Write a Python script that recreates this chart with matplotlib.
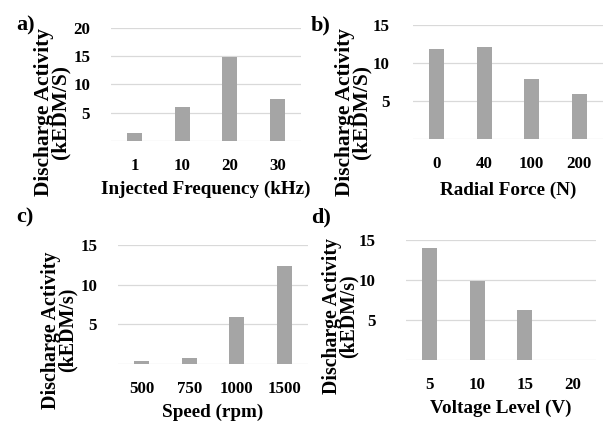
import matplotlib.pyplot as plt

plt.rcParams['font.family'] = ['Liberation Serif', 'DejaVu Serif']
plt.rcParams['font.weight'] = 'bold'

# Data
freq_labels = ['1', '10', '20', '30']
freq_values = [1.4, 6.0, 14.8, 7.4]

force_labels = ['0', '40', '100', '200']
force_values = [11.8, 12.1, 7.9, 5.9]

speed_labels = ['500', '750', '1000', '1500']
speed_values = [0.4, 0.7, 5.9, 12.3]

voltage_labels = ['5', '10', '15', '20']
voltage_values = [14.0, 9.9, 6.2, 0.0]

BAR_COLOR = '#A5A5A5'
GRID_COLOR = '#D9D9D9'
TICK_FS = 12.2
XLAB_FS = 13.8

W, H = 606, 423
fig = plt.figure(figsize=(W / 100, H / 100), dpi=100)


def px_axes(x0, y0, x1, y1):
    # pixel box (top-left origin) -> figure fraction axes
    return fig.add_axes([x0 / W, 1 - y1 / H, (x1 - x0) / W, (y1 - y0) / H])


def draw_panel(ax, labels, values, ymax, xlabel, ypad, xlabpad):
    pos = range(len(labels))
    ax.bar(pos, values, width=0.32, color=BAR_COLOR, zorder=3)
    ticks = list(range(0, ymax + 1, 5))
    ax.set_yticks(ticks)
    ax.set_yticklabels([''] + [str(t) for t in ticks[1:]])
    ax.set_ylim(0, ymax)
    ax.set_xlim(-0.5, len(labels) - 0.5)
    ax.set_xticks(list(pos))
    ax.set_xticklabels(labels)
    ax.grid(axis='y', color=GRID_COLOR, linewidth=0.9, zorder=0)
    for s in ax.spines.values():
        s.set_visible(False)
    ax.tick_params(length=0, labelsize=TICK_FS)
    ax.tick_params(axis='y', pad=ypad)
    ax.tick_params(axis='x', pad=12)
    ax.set_xlabel(xlabel, fontsize=XLAB_FS, fontweight='bold', labelpad=xlabpad)


ax_a = px_axes(111, 28, 301, 141)
draw_panel(ax_a, freq_labels, freq_values, 20, 'Injected Frequency (kHz)', 15, 5)

ax_b = px_axes(413, 25, 603, 139)
draw_panel(ax_b, force_labels, force_values, 15, 'Radial Force (N)', 17, 7)

ax_c = px_axes(118, 245, 308, 364)
draw_panel(ax_c, speed_labels, speed_values, 15, 'Speed (rpm)', 15, 5)

ax_d = px_axes(406, 240, 596, 360)
draw_panel(ax_d, voltage_labels, voltage_values, 15, 'Voltage Level (V)', 22, 5)

# y-axis titles
ylab_kw = dict(rotation=90, ha='center', va='center',
               fontweight='bold', linespacing=0.78)
fig.text(52 / W, 1 - 112 / H, 'Discharge Activity\n(kEDM/S)', fontsize=15.4, **ylab_kw)
fig.text(353 / W, 1 - 112 / H, 'Discharge Activity\n(kEDM/S)', fontsize=15.4, **ylab_kw)
fig.text(59 / W, 1 - 330 / H, 'Discharge Activity\n(kEDM/s)', fontsize=14.4, **ylab_kw)
fig.text(340 / W, 1 - 316 / H, 'Discharge Activity\n(kEDM/s)', fontsize=14.2, **ylab_kw)

# panel letters
lab_kw = dict(fontsize=16, fontweight='bold', va='center')
fig.text(16 / W, 1 - 25 / H, 'a)', **lab_kw)
fig.text(311 / W, 1 - 25 / H, 'b)', **lab_kw)
fig.text(16 / W, 1 - 217 / H, 'c)', **lab_kw)
fig.text(311 / W, 1 - 217 / H, 'd)', **lab_kw)

fig.savefig('out.png', dpi=100)
